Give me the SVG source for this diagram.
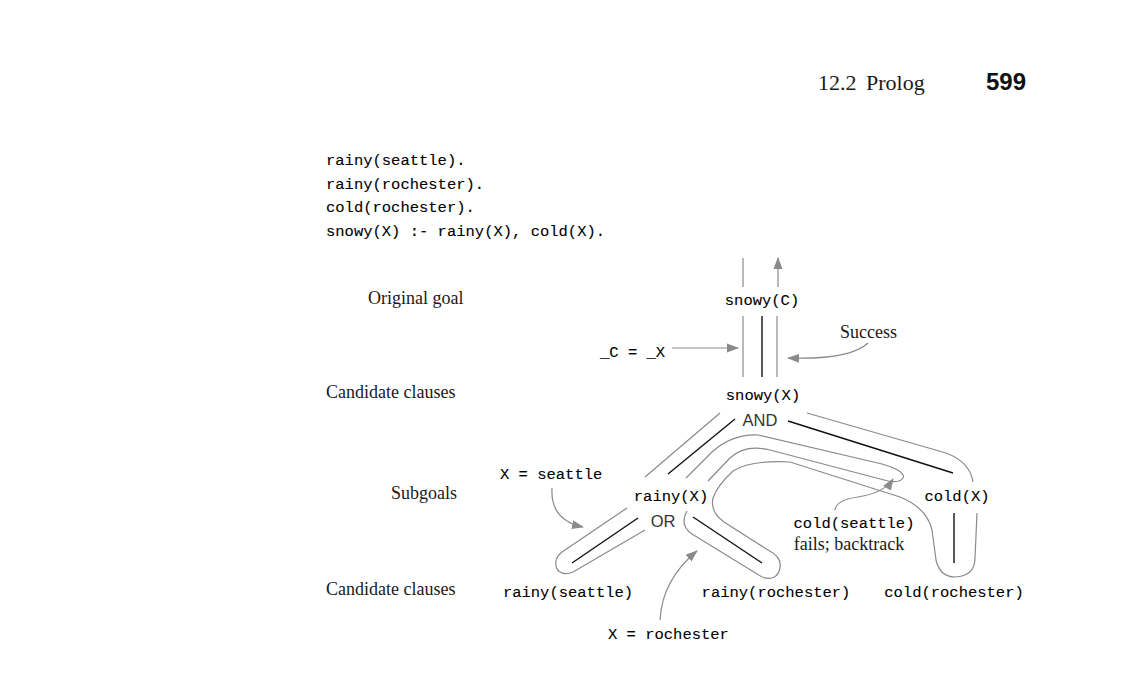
<svg xmlns="http://www.w3.org/2000/svg" width="1128" height="680" viewBox="0 0 1128 680">
<style>
.mono{font-family:"Liberation Mono","DejaVu Sans Mono",monospace;font-size:15.5px;fill:#000;stroke:#000;stroke-width:0.1;}
.serif{font-family:"Liberation Serif","DejaVu Serif",serif;font-size:18px;fill:#1a1a1a;}
.sans{font-family:"Liberation Sans","DejaVu Sans",sans-serif;font-size:16.5px;fill:#333;}
.edge{stroke:#111;stroke-width:1.4;fill:none;}
.trace{stroke:#8a8a8a;stroke-width:1.2;fill:none;}
.arr{stroke:#8a8a8a;stroke-width:1.2;fill:none;marker-end:url(#ah);}
</style>
<defs>
<marker id="ah" markerUnits="userSpaceOnUse" markerWidth="12" markerHeight="10" refX="11" refY="5" orient="auto">
<path d="M0,0.5 L12,5 L0,9.5 Z" fill="#8a8a8a"/>
</marker>
</defs>
<rect width="1128" height="680" fill="#fff"/>

<g id="header">
<text x="818" y="90" font-family="Liberation Serif, serif" font-size="22" fill="#1a1a1a">12.2</text>
<text x="866" y="90" font-family="Liberation Serif, serif" font-size="22" fill="#1a1a1a">Prolog</text>
<text x="986" y="90" font-family="Liberation Sans, sans-serif" font-size="24" font-weight="bold" fill="#111">599</text>
</g>

<g id="code">
<text class="mono" x="326" y="165">rainy(seattle).</text>
<text class="mono" x="326" y="189">rainy(rochester).</text>
<text class="mono" x="326" y="212">cold(rochester).</text>
<text class="mono" x="326" y="236">snowy(X) :- rainy(X), cold(X).</text>
</g>

<g id="row-labels">
<text class="serif" x="368" y="304">Original goal</text>
<text class="serif" x="326" y="398">Candidate clauses</text>
<text class="serif" x="391" y="499">Subgoals</text>
<text class="serif" x="326" y="595">Candidate clauses</text>
</g>

<g id="connectors">
<line class="edge" x1="762" y1="316" x2="762" y2="377"/>
<line class="edge" x1="735" y1="419" x2="668" y2="474"/>
<line class="edge" x1="788" y1="421" x2="953" y2="473"/>
<line class="edge" x1="638" y1="518" x2="572" y2="563"/>
<line class="edge" x1="693" y1="517" x2="762" y2="563"/>
<line class="edge" x1="954" y1="513" x2="954" y2="563" stroke="#555"/>
</g>

<g id="trace">
<line class="trace" x1="743" y1="258" x2="743" y2="287"/>
<line class="arr" x1="778" y1="287" x2="778" y2="258"/>
<line class="trace" x1="743" y1="316" x2="743" y2="377"/>
<line class="trace" x1="777" y1="316" x2="777" y2="377"/>
<line class="trace" x1="720" y1="413" x2="645" y2="477"/>
<path class="trace" d="M627,508 L562,552 C550,561 556,579 573,572 L645,530"/>
<path class="trace" d="M686,478 L712,452 Q732,434 758,435 L882,464 Q906,471 903,478 Q899,484 884,480 L770,450 Q745,444 730,458 L708,481"/>
<path class="trace" d="M687,511 Q679,525 692,534 L762,577 Q777,582 780,568 Q782,557 768,550 L724,522 Q710,512 713,498 Q717,486 733,471 Q750,460 790,462 L900,497 Q927,508 932,530 L936,560 Q940,577 955,577 Q975,576 975,558 L977,513"/>
<path class="trace" d="M973,482 Q970,462 946,453 L807,413"/>
</g>

<g id="annot-arrows">
<line class="arr" x1="672" y1="348" x2="738" y2="348"/>
<path class="arr" d="M868,343 Q850,360 788,358"/>
<path class="arr" d="M552,488 Q550,520 583,527"/>
<path class="arr" d="M660,620 Q662,580 697,551"/>
<path class="arr" d="M835,510 Q836,500 858,497 Q884,493 893,479"/>
</g>

<g id="node-snowyC"><text class="mono" x="762" y="305" text-anchor="middle">snowy(C)</text></g>
<g id="node-snowyX"><text class="mono" x="763" y="400" text-anchor="middle">snowy(X)</text></g>
<g id="node-and"><text class="sans" x="760" y="426" text-anchor="middle">AND</text></g>
<g id="node-rainyX"><text class="mono" x="671" y="501" text-anchor="middle">rainy(X)</text></g>
<g id="node-or"><text class="sans" x="663" y="527" text-anchor="middle">OR</text></g>
<g id="node-coldX"><text class="mono" x="957" y="501" text-anchor="middle">cold(X)</text></g>
<g id="node-rainySeattle"><text class="mono" x="568" y="597" text-anchor="middle">rainy(seattle)</text></g>
<g id="node-rainyRochester"><text class="mono" x="776" y="597" text-anchor="middle">rainy(rochester)</text></g>
<g id="node-coldRochester"><text class="mono" x="954" y="597" text-anchor="middle">cold(rochester)</text></g>

<g id="annotations">
<text class="mono" x="600" y="357">_C = _X</text>
<text class="serif" x="840" y="338">Success</text>
<text class="mono" x="500" y="479">X = seattle</text>
<text class="mono" x="608" y="639">X = rochester</text>
<text class="mono" x="854" y="528" text-anchor="middle">cold(seattle)</text>
<text class="serif" x="849" y="550" text-anchor="middle" font-size="17">fails; backtrack</text>
</g>
</svg>
